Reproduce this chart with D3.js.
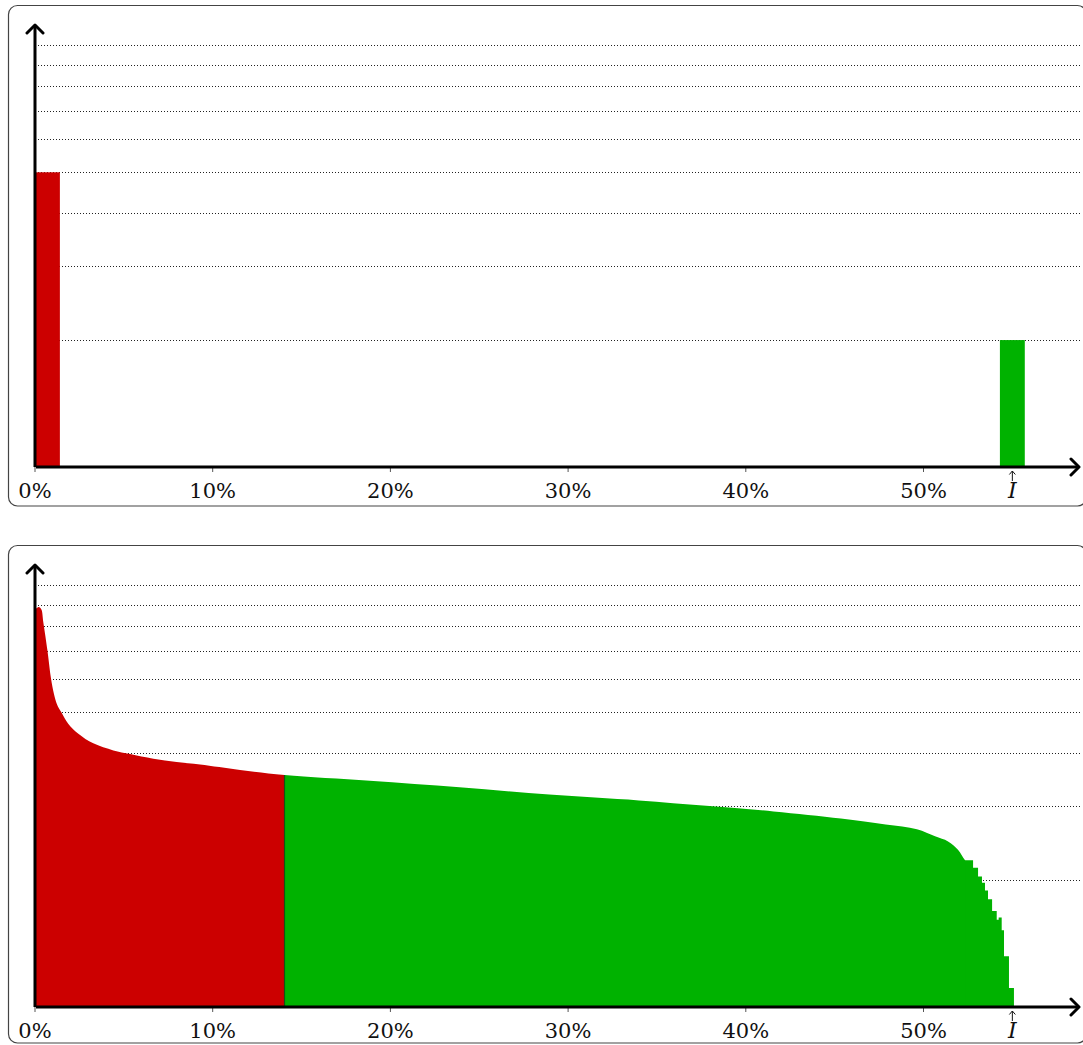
<!DOCTYPE html>
<html>
<head>
	<meta charset="utf-8">
	<title>histogram</title>
	<script src="https://d3js.org/d3.v7.min.js"></script>
	<style>
		body { margin: 0; background: #fff; }
		text { font-family: "DejaVu Serif", serif; fill: #111; }
	</style>
</head>
<body>
	<svg id="chart" width="1083" height="1045"></svg>

	<script type="text/javascript">
// x ticks (percent) and the special mark I
var xTicks = [0, 10, 20, 30, 40, 50];
var xTickLabels = ['0%', '10%', '20%', '30%', '40%', '50%'];
var markPct = 55, markLabel = 'I';
// dotted grid values on the log axis
var gridValues = [2, 3, 4, 5, 6, 7, 8, 9, 10];

// top panel: two bars
var barStart = [0, 54.3];
var barEnd = [1.4, 55.7];
var barValue = [5, 2];

// bottom panel: smooth part of the distribution (percent, value)
var curvePct = [0, 0.24, 0.36, 0.47, 0.70, 0.90, 1.07, 1.24, 1.50, 1.87, 2.44, 3.28, 4.41, 5.35,
                6.66, 7.97, 9.29, 11.54, 14.04, 18.84, 23.89, 28.94, 33.98, 37.77, 41.56, 45.35,
                47.87, 49.63, 50.65, 51.38, 51.94, 52.34, 52.79];
var curveVal = [8.77, 8.88, 8.77, 8.17, 7.01, 6.01, 5.52, 5.22, 4.99, 4.70, 4.45, 4.22, 4.06, 3.98,
                3.88, 3.81, 3.76, 3.65, 3.55, 3.44, 3.32, 3.19, 3.09, 3.00, 2.91, 2.80,
                2.71, 2.64, 2.54, 2.47, 2.36, 2.23, 2.14];
// ragged tail as histogram bins (bin start, value), last bin ends at tailEnd
var tailPct = [52.34, 52.79, 53.07, 53.29, 53.46, 53.63, 53.86, 54.12, 54.23, 54.40, 54.53, 54.81];
var tailVal = [2.23, 2.14, 2.04, 1.97, 1.89, 1.80, 1.69, 1.61, 1.63, 1.52, 1.32, 1.11];
var tailEnd = 55.09;
// red/green split point
var splitPct = 14.04, splitVal = 3.55;

var RED = '#cc0000', GREEN = '#00b200';
var svg = d3.select('#chart');

var x = d3.scaleLinear().domain([0, 10]).range([35, 212.7]);
var xEnd = 1080;

function panel(top, bottom, base) {
    var g = svg.append('g');
    var y = d3.scaleLog().domain([1, 11.3]).range([base, base - 444]);

    // frame
    g.append('rect')
        .attr('x', 8.5).attr('y', top)
        .attr('width', 1078).attr('height', bottom - top)
        .attr('rx', 9)
        .attr('fill', 'none').attr('stroke', '#444').attr('stroke-width', 1.2);

    // grid
    g.selectAll('.grid').data(gridValues).enter().append('line')
        .attr('x1', x(0)).attr('x2', xEnd)
        .attr('y1', function(d) { return Math.round(y(d)) + 0.5; })
        .attr('y2', function(d) { return Math.round(y(d)) + 0.5; })
        .attr('stroke', '#222').attr('stroke-width', 1)
        .attr('stroke-dasharray', '1,2');

    return {g: g, y: y, base: base};
}

function axes(p) {
    var g = p.g, base = p.base;
    // ticks
    g.selectAll('.tick').data(xTicks).enter().append('line')
        .attr('x1', function(d) { return x(d); }).attr('x2', function(d) { return x(d); })
        .attr('y1', base).attr('y2', base + 5)
        .attr('stroke', '#555').attr('stroke-width', 1);
    g.selectAll('.lbl').data(xTicks).enter().append('text')
        .attr('x', function(d) { return x(d); })
        .attr('y', base + 31)
        .attr('text-anchor', 'middle')
        .attr('font-size', 21)
        .text(function(d, i) { return xTickLabels[i]; });

    // mark I with small arrow
    var mx = x(markPct);
    g.append('path')
        .attr('d', 'M' + mx + ',' + (base + 14) + 'V' + (base + 4) +
              'M' + (mx - 3) + ',' + (base + 7.5) + 'L' + mx + ',' + (base + 4) + 'L' + (mx + 3) + ',' + (base + 7.5))
        .attr('fill', 'none').attr('stroke', '#111').attr('stroke-width', 1);
    g.append('text')
        .attr('x', mx).attr('y', base + 31)
        .attr('text-anchor', 'middle')
        .attr('font-size', 22).attr('font-style', 'italic')
        .text(markLabel);

    // axis lines with open arrow heads
    var top = base - 443;
    g.append('path')
        .attr('d', 'M' + x(0) + ',' + base + 'V' + (top + 1) + 'M' + (x(0) + 1) + ',' + base + 'H' + (xEnd - 1))
        .attr('fill', 'none').attr('stroke', '#000').attr('stroke-width', 3);
    g.append('path')
        .attr('d', 'M' + (x(0) - 8) + ',' + (top + 9) + 'L' + x(0) + ',' + (top + 1) + 'L' + (x(0) + 8) + ',' + (top + 9) +
              'M' + (xEnd - 9) + ',' + (base - 8) + 'L' + (xEnd - 1) + ',' + base + 'L' + (xEnd - 9) + ',' + (base + 8))
        .attr('fill', 'none').attr('stroke', '#000').attr('stroke-width', 3)
        .attr('stroke-linecap', 'round').attr('stroke-linejoin', 'round');
}

// ---------- top panel ----------
var p1 = panel(5.5, 506, 467);
p1.g.selectAll('.bar').data(barValue).enter().append('rect')
    .attr('x', function(d, i) { return x(barStart[i]); })
    .attr('width', function(d, i) { return x(barEnd[i]) - x(barStart[i]); })
    .attr('y', function(d) { return p1.y(d); })
    .attr('height', function(d) { return p1.y(1) - p1.y(d); })
    .attr('fill', function(d, i) { return i === 0 ? RED : GREEN; });
axes(p1);

// ---------- bottom panel ----------
var p2 = panel(545.5, 1043, 1007);
var y2 = p2.y;
var curve = curvePct.map(function(d, i) { return [d, curveVal[i]]; });
var tail = tailPct.map(function(d, i) { return [d, tailVal[i]]; });
tail.push([tailEnd, tailVal[tailVal.length - 1]]);

var defs = svg.append('defs');
defs.append('clipPath').attr('id', 'clipRed').append('rect')
    .attr('x', 0).attr('y', 0).attr('width', x(splitPct)).attr('height', 1045);
defs.append('clipPath').attr('id', 'clipGreen').append('rect')
    .attr('x', x(splitPct)).attr('y', 0).attr('width', 1083).attr('height', 1045);

var areaSmooth = d3.area()
    .x(function(d) { return x(d[0]); })
    .y0(y2(1))
    .y1(function(d) { return y2(d[1]); })
    .curve(d3.curveCatmullRom.alpha(0.5));
var areaStep = d3.area()
    .x(function(d) { return x(d[0]); })
    .y0(y2(1))
    .y1(function(d) { return y2(d[1]); })
    .curve(d3.curveStepAfter);

p2.g.append('path').attr('d', areaSmooth(curve)).attr('fill', RED).attr('clip-path', 'url(#clipRed)');
p2.g.append('path').attr('d', areaSmooth(curve)).attr('fill', GREEN).attr('clip-path', 'url(#clipGreen)');
p2.g.append('path').attr('d', areaStep(tail)).attr('fill', GREEN);
p2.g.append('line')
    .attr('x1', x(splitPct)).attr('x2', x(splitPct))
    .attr('y1', y2(1)).attr('y2', y2(splitVal))
    .attr('stroke', '#145214').attr('stroke-width', 1.2);
axes(p2);
</script>
</body>
</html>
